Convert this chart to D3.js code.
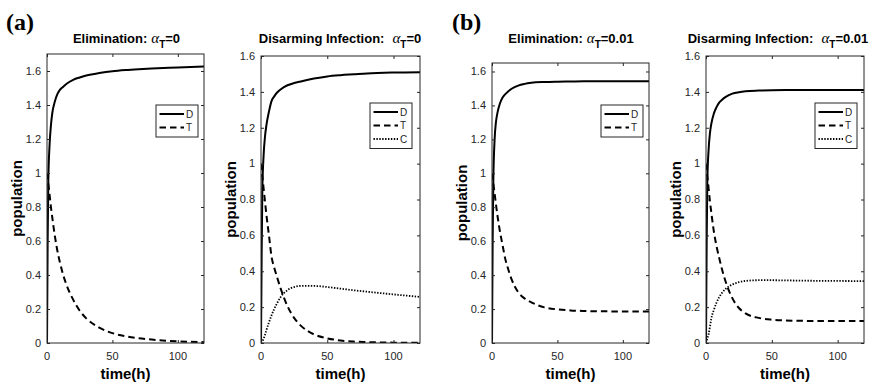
<!DOCTYPE html>
<html><head><meta charset="utf-8">
<script src="https://cdn.jsdelivr.net/npm/d3@7"></script>
<style>body{margin:0;background:#fff} svg{display:block}</style>
</head><body>
<script>
// ---------- data ----------
const time      = [0,0.5,1,2,3,4,6,8,10,12,15,20,25,30,40,50,60,70,80,100,120];
// (a) Elimination, alpha_T = 0
const elimA_D   = [0,0.60,0.95,1.17,1.28,1.35,1.42,1.465,1.49,1.505,1.525,1.548,1.562,1.573,1.588,1.599,1.606,1.611,1.615,1.621,1.627];
const elimA_T   = [1,0.97,0.94,0.87,0.80,0.74,0.63,0.54,0.47,0.41,0.34,0.255,0.19,0.145,0.09,0.058,0.04,0.028,0.02,0.01,0.005];
// (a) Disarming infection, alpha_T = 0
const disA_D    = [0,0.50,0.85,1.05,1.15,1.21,1.29,1.35,1.375,1.395,1.415,1.437,1.449,1.458,1.474,1.486,1.493,1.498,1.503,1.508,1.510];
const disA_T    = [1,0.96,0.93,0.86,0.79,0.72,0.60,0.48,0.42,0.37,0.30,0.205,0.14,0.097,0.048,0.026,0.014,0.008,0.005,0.002,0.001];
const disA_C    = [0,0.005,0.01,0.025,0.045,0.07,0.115,0.155,0.19,0.22,0.258,0.295,0.312,0.318,0.318,0.312,0.303,0.294,0.286,0.271,0.257];
// (b) Elimination, alpha_T = 0.01
const elimB_D   = [0,0.60,0.95,1.20,1.30,1.35,1.41,1.445,1.465,1.48,1.498,1.517,1.527,1.533,1.538,1.540,1.541,1.542,1.542,1.542,1.542];
const elimB_T   = [1,0.97,0.94,0.88,0.82,0.76,0.66,0.58,0.50,0.445,0.375,0.30,0.262,0.24,0.21,0.198,0.192,0.189,0.187,0.186,0.185];
// (b) Disarming infection, alpha_T = 0.01
const disB_D    = [0,0.55,0.90,1.08,1.17,1.22,1.28,1.315,1.34,1.355,1.372,1.39,1.398,1.403,1.407,1.409,1.41,1.41,1.41,1.41,1.41];
const disB_T    = [1,0.96,0.93,0.86,0.79,0.73,0.62,0.54,0.475,0.415,0.34,0.25,0.195,0.165,0.14,0.13,0.126,0.124,0.123,0.122,0.122];
const disB_C    = [0,0.01,0.025,0.05,0.09,0.135,0.185,0.225,0.255,0.278,0.302,0.326,0.339,0.346,0.35,0.35,0.349,0.348,0.347,0.346,0.345];

const xTicks       = [0,50,100];
const yTicks       = [0,0.2,0.4,0.6,0.8,1,1.2,1.4,1.6];
const yTickLabels  = ["0","0.2","0.4","0.6","0.8","1","1.2","1.4","1.6"];
const panelTitles  = ["Elimination:","Disarming Infection:","Elimination:","Disarming Infection:"];
const alphaValues  = ["0","0","0.01","0.01"];
const panelLetters = ["(a)","(b)"];
const xLabel = "time(h)";
const yLabel = "population";
const yMax   = [1.7,1.6,1.65,1.6];
const xMax   = 120;

// ---------- layout ----------
const W = 876, H = 385;
const layout = [
  {left:47,  right:204, top:54, bottom:343, titleX:126.5, gap:4},
  {left:261, right:420, top:56, bottom:343, titleX:340,   gap:8},
  {left:492, right:649, top:63, bottom:343, titleX:571,   gap:4},
  {left:706, right:864, top:56, bottom:343, titleX:778,   gap:8}
];
const letterPos = [{x:6,y:30},{x:452,y:30}];
const styles = {
  D:{dash:null,   width:2},
  T:{dash:"6.5,4",width:2},
  C:{dash:"1.4,1.5",width:1.8}
};
const panelSeries = [
  {D:elimA_D, T:elimA_T},
  {D:disA_D,  T:disA_T, C:disA_C},
  {D:elimB_D, T:elimB_T},
  {D:disB_D,  T:disB_T, C:disB_C}
];

const axisColor = "#262626";
const sans = "'Liberation Sans', Arial, Helvetica, sans-serif";

const svg = d3.select("body").append("svg").attr("width",W).attr("height",H);

layout.forEach((L,i)=>{
  const x = d3.scaleLinear().domain([0,xMax]).range([L.left,L.right]);
  const y = d3.scaleLinear().domain([0,yMax[i]]).range([L.bottom,L.top]);
  const g = svg.append("g");

  const clipId = "clip"+i;
  svg.append("clipPath").attr("id",clipId).append("rect")
    .attr("x",L.left).attr("y",L.top).attr("width",L.right-L.left).attr("height",L.bottom-L.top);

  // data lines
  const line = d3.line().x((d,k)=>x(time[k])).y(d=>y(d)).curve(d3.curveMonotoneX);
  const ser = panelSeries[i];
  Object.keys(ser).forEach(name=>{
    const st = styles[name];
    g.append("path").attr("d",line(ser[name]))
      .attr("clip-path",`url(#${clipId})`)
      .attr("fill","none").attr("stroke","#000")
      .attr("stroke-width",st.width)
      .attr("stroke-dasharray",st.dash);
  });

  // axes (box with inward ticks)
  const tl = 3;
  const yAxL = d3.axisRight(y).tickValues(yTicks).tickSize(tl).tickFormat("");
  const yAxR = d3.axisLeft(y).tickValues(yTicks).tickSize(tl).tickFormat("");
  const xAxB = d3.axisTop(x).tickValues(xTicks).tickSize(tl).tickFormat("");
  const xAxT = d3.axisBottom(x).tickValues(xTicks).tickSize(tl).tickFormat("");
  const axes = [
    g.append("g").attr("transform",`translate(${L.left},0)`).call(yAxL),
    g.append("g").attr("transform",`translate(${L.right},0)`).call(yAxR),
    g.append("g").attr("transform",`translate(0,${L.bottom})`).call(xAxB),
    g.append("g").attr("transform",`translate(0,${L.top})`).call(xAxT)
  ];
  axes.forEach(a=>{
    a.selectAll("path.domain").remove();
    a.selectAll("line").attr("stroke",axisColor).attr("stroke-width",1);
  });
  g.append("rect").attr("x",L.left).attr("y",L.top)
    .attr("width",L.right-L.left).attr("height",L.bottom-L.top)
    .attr("fill","none").attr("stroke",axisColor).attr("stroke-width",1);

  // tick labels
  g.selectAll(".yl").data(yTicks).enter().append("text")
    .attr("x",L.left-6).attr("y",d=>y(d)).attr("dy","0.35em")
    .attr("text-anchor","end").attr("font-family",sans).attr("font-size",11)
    .attr("fill",axisColor).text((d,k)=>yTickLabels[k]);
  g.selectAll(".xl").data(xTicks).enter().append("text")
    .attr("x",d=>x(d)).attr("y",L.bottom+17)
    .attr("text-anchor","middle").attr("font-family",sans).attr("font-size",11)
    .attr("fill",axisColor).text(d=>d);

  // axis labels
  g.append("text").attr("x",(L.left+L.right)/2).attr("y",379)
    .attr("text-anchor","middle").attr("font-family",sans).attr("font-weight","bold")
    .attr("font-size",15).attr("fill","#000").text(xLabel);
  g.append("text")
    .attr("transform",`translate(${L.left-25},${(L.top+L.bottom)/2}) rotate(-90)`)
    .attr("text-anchor","middle").attr("font-family",sans).attr("font-weight","bold")
    .attr("font-size",15).attr("fill","#000").text(yLabel);

  // title
  const t = g.append("text").attr("x",L.titleX).attr("y",43).attr("text-anchor","middle")
    .attr("font-family",sans).attr("font-weight","bold").attr("font-size",13).attr("fill","#000");
  t.append("tspan").text(panelTitles[i]);
  t.append("tspan").attr("dx",L.gap).attr("font-family","'Liberation Serif','Times New Roman',serif")
    .attr("font-style","italic").attr("font-weight","normal").attr("font-size",15).text("α");
  t.append("tspan").attr("dy",5).attr("font-size",10).text("T");
  t.append("tspan").attr("dy",-5).text("="+alphaValues[i]);

  // legend
  const names = Object.keys(ser);
  const lx = L.left+109, ly = names.length===2 ? 105 : 103;
  const lw = 42, lh = 5 + names.length*13.5;
  const lg = g.append("g");
  lg.append("rect").attr("x",lx).attr("y",ly).attr("width",lw).attr("height",lh)
    .attr("fill","#fff").attr("stroke",axisColor).attr("stroke-width",1);
  names.forEach((n,k)=>{
    const ry = ly + 9 + k*13.5;
    const st = styles[n];
    lg.append("line").attr("x1",lx+3.5).attr("x2",lx+28).attr("y1",ry).attr("y2",ry)
      .attr("stroke","#000").attr("stroke-width",st.width).attr("stroke-dasharray",st.dash);
    lg.append("text").attr("x",lx+30).attr("y",ry).attr("dy","0.35em")
      .attr("font-family",sans).attr("font-size",10).attr("fill",axisColor).text(n);
  });
});

// panel letters
panelLetters.forEach((s,k)=>{
  svg.append("text").attr("x",letterPos[k].x).attr("y",letterPos[k].y)
    .attr("font-family","'Liberation Serif','Times New Roman',serif").attr("font-weight","bold")
    .attr("font-size",24).attr("fill","#000").text(s);
});
</script>
</body></html>
